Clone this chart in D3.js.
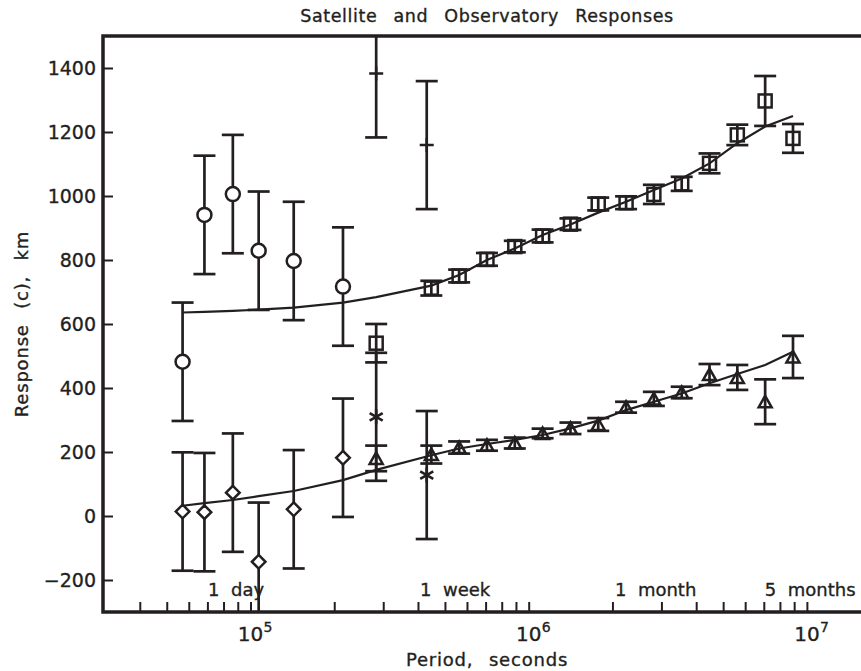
<!DOCTYPE html>
<html>
<head>
<meta charset="utf-8">
<script src="https://cdn.jsdelivr.net/npm/d3@7"></script>
<style>
  html, body { margin: 0; padding: 0; background: #fff; }
  svg { display: block; }
  text { font-family: "DejaVu Sans", sans-serif; fill: #231f20; stroke: #231f20; stroke-width: 0.35px; }
</style>
</head>
<body>
<svg id="chart" width="861" height="671"></svg>
<script>
// ---- data -------------------------------------------------------------
// short-period observatory estimates (seconds)
const obsPeriods   = [57000, 68300, 86400, 107000, 143000, 215000];
const circleValues = [482, 941, 1006, 829, 797, 717];
const circleErrors = [185, 185, 185, 185, 185, 185];
const diamondValues = [14, 12, 73, -143, 21, 182];
const diamondErrors = [185, 185, 185, 185, 185, 185];

// plus-sign estimates
const plusPeriods = [283000, 430000];
const plusValues  = [1383, 1159];
const plusErrors  = [200, 200];

// asterisk estimates
const starPeriods = [283000, 430000];
const starValues  = [310, 128];
const starErrors  = [200, 200];

// satellite periods (seconds)
const satPeriods = [283000, 446700, 562300, 707900, 891300, 1122000, 1413000,
                    1778000, 2239000, 2818000, 3548000, 4467000, 5623000,
                    7079000, 8913000];
const squareValues = [540, 712, 750, 802, 842, 875, 912, 975, 979, 1005, 1038,
                      1102, 1191, 1297, 1180];
const squareErrors = [60, 23, 20, 20, 18, 20, 18, 20, 20, 30, 22, 31, 32, 78, 45];
const triangleValues = [180, 192, 214, 221, 228, 258, 274, 286, 340, 366, 386,
                        442, 433, 357, 497];
const triangleErrors = [40, 28, 19, 17, 17, 15, 18, 20, 17, 22, 18, 33, 39, 70, 66];

// model response curves
const modelPeriods = [57000, 68300, 86400, 107000, 143000, 215000, 283000,
                      446700, 562300, 707900, 891300, 1122000, 1413000,
                      1778000, 2239000, 2818000, 3548000, 4467000, 5623000,
                      7079000, 8913000];
const modelUpper = [636, 638, 641, 645, 651, 667, 684, 720, 753, 800, 836, 878,
                    911, 948, 982, 1019, 1055, 1102, 1165, 1217, 1250];
const modelLower = [32, 40, 50, 62, 78, 112, 144, 190, 211, 225, 238, 253, 274,
                    298, 331, 357, 383, 415, 444, 472, 513];

// axis ticks and labels
const yTicks = [-200, 0, 200, 400, 600, 800, 1000, 1200, 1400];
const xMajorTicks = [1e5, 1e6, 1e7];
const xMinorTicks = [4e4, 5e4, 6e4, 7e4, 8e4, 9e4,
                     2e5, 3e5, 4e5, 5e5, 6e5, 7e5, 8e5, 9e5,
                     2e6, 3e6, 4e6, 5e6, 6e6, 7e6, 8e6, 9e6];
const timeLabels    = ["1  day", "1  week", "1  month", "5  months"];
const timeLabelsAt  = [70400, 407000, 2043000, 7060000];

// ---- layout -----------------------------------------------------------
const ink = "#231f20";
const svg = d3.select("#chart");
const m = { left: 103, right: 871, top: 36, bottom: 612 };

const x = d3.scaleLog().domain([2.95e4, 1.7e7]).range([m.left, m.right]);
const y = d3.scaleLinear().domain([-300, 1500]).range([m.bottom, m.top]);

svg.append("rect").attr("width", 861).attr("height", 671).attr("fill", "#fff");

svg.append("defs").append("clipPath").attr("id", "plotClip")
  .append("rect").attr("x", m.left).attr("y", m.top)
  .attr("width", m.right - m.left).attr("height", m.bottom - m.top);

// title
svg.append("text")
  .attr("x", (m.left + m.right) / 2).attr("y", 22)
  .attr("text-anchor", "middle")
  .style("font-size", "17.5px").style("word-spacing", "10px").style("letter-spacing", "0.6px")
  .text("Satellite and Observatory Responses");

// y axis
const yAxis = d3.axisLeft(y).tickValues(yTicks).tickSize(-10).tickPadding(7)
  .tickFormat(d => d < 0 ? "\u2212" + Math.abs(d) : String(d));
const gy = svg.append("g").attr("transform", `translate(${m.left},0)`).call(yAxis);
gy.select(".domain").remove();
gy.selectAll("line").attr("stroke", ink).attr("stroke-width", 2);
gy.selectAll("text").style("font-size", "19px").style("font-family", "DejaVu Sans, sans-serif")
  .attr("fill", ink);

// x axis (ticks only, labels drawn as powers of ten)
const xAxis = d3.axisBottom(x).tickValues(xMajorTicks.concat(xMinorTicks))
  .tickSize(-10).tickFormat("");
const gx = svg.append("g").attr("transform", `translate(0,${m.bottom})`).call(xAxis);
gx.select(".domain").remove();
gx.selectAll("line").attr("stroke", ink).attr("stroke-width", 2);

const pow = svg.append("g");
xMajorTicks.forEach(v => {
  const px = x(v);
  const e = Math.round(Math.log10(v));
  pow.append("text").attr("x", px).attr("y", 641).attr("text-anchor", "middle")
    .style("font-size", "20px").text("10");
  pow.append("text").attr("x", px + 13).attr("y", 632).attr("text-anchor", "start")
    .style("font-size", "14px").text(e);
});

// axis titles
svg.append("text")
  .attr("x", (m.left + m.right) / 2).attr("y", 666).attr("text-anchor", "middle")
  .style("font-size", "18px").style("word-spacing", "9px").style("letter-spacing", "0.8px")
  .text("Period, seconds");
svg.append("text")
  .attr("transform", `translate(28,${(m.top + m.bottom) / 2}) rotate(-90)`)
  .attr("text-anchor", "middle")
  .style("font-size", "18px").style("word-spacing", "9px").style("letter-spacing", "0.8px")
  .text("Response (c), km");

// period annotations
svg.append("g").selectAll("text").data(timeLabels).join("text")
  .attr("x", (d, i) => x(timeLabelsAt[i])).attr("y", 596)
  .style("font-size", "18px").style("white-space", "pre")
  .text(d => d);

// ---- plot content -----------------------------------------------------
const plot = svg.append("g").attr("clip-path", "url(#plotClip)");

function errorBars(periods, values, errors) {
  const g = plot.append("g").attr("stroke", ink).attr("stroke-width", 2.7).attr("fill", "none");
  periods.forEach((p, i) => {
    const px = x(p), y1 = y(values[i] + errors[i]), y0 = y(values[i] - errors[i]);
    g.append("line").attr("x1", px).attr("x2", px).attr("y1", y1).attr("y2", y0);
    g.append("line").attr("x1", px - 11).attr("x2", px + 11).attr("y1", y1).attr("y2", y1);
    g.append("line").attr("x1", px - 11).attr("x2", px + 11).attr("y1", y0).attr("y2", y0);
  });
}

// model curves
const line = d3.line().x(d => x(d[0])).y(d => y(d[1]));
[modelUpper, modelLower].forEach(vals => {
  plot.append("path")
    .datum(modelPeriods.map((p, i) => [p, vals[i]]))
    .attr("d", line).attr("fill", "none").attr("stroke", ink).attr("stroke-width", 2.2);
});

errorBars(obsPeriods, circleValues, circleErrors);
errorBars(obsPeriods, diamondValues, diamondErrors);
errorBars(plusPeriods, plusValues, plusErrors);
errorBars(starPeriods, starValues, starErrors);
errorBars(satPeriods, squareValues, squareErrors);
errorBars(satPeriods, triangleValues, triangleErrors);

const marks = plot.append("g").attr("stroke", ink).attr("stroke-width", 2.5);

// circles
marks.append("g").selectAll("circle").data(obsPeriods).join("circle")
  .attr("cx", d => x(d)).attr("cy", (d, i) => y(circleValues[i]))
  .attr("r", 7).attr("fill", "#fff");

// diamonds
marks.append("g").selectAll("path").data(obsPeriods).join("path")
  .attr("fill", "#fff")
  .attr("d", (d, i) => {
    const cx = x(d), cy = y(diamondValues[i]), s = 6.8;
    return `M${cx},${cy - s}L${cx + s},${cy}L${cx},${cy + s}L${cx - s},${cy}Z`;
  });

// squares
marks.append("g").selectAll("rect").data(satPeriods).join("rect")
  .attr("x", d => x(d) - 6.5).attr("y", (d, i) => y(squareValues[i]) - 6.5)
  .attr("width", 13).attr("height", 13).attr("fill", "none");

// triangles
marks.append("g").selectAll("path").data(satPeriods).join("path")
  .attr("fill", "none")
  .attr("d", (d, i) => {
    const cx = x(d), cy = y(triangleValues[i]);
    return `M${cx - 6.5},${cy + 5.5}L${cx},${cy - 6}L${cx + 6.5},${cy + 5.5}Z`;
  });

// plus signs
marks.append("g").selectAll("path").data(plusPeriods).join("path")
  .attr("d", (d, i) => {
    const cx = x(d), cy = y(plusValues[i]);
    return `M${cx - 7},${cy}H${cx + 7}M${cx},${cy - 7}V${cy + 7}`;
  });

// asterisks
marks.append("g").selectAll("path").data(starPeriods).join("path")
  .attr("stroke-width", 2.6)
  .attr("d", (d, i) => {
    const cx = x(d), cy = y(starValues[i]), s = 7.5, h = s * 0.87, q = s * 0.5;
    return `M${cx},${cy - s}V${cy + s}` +
           `M${cx - h},${cy - q}L${cx + h},${cy + q}` +
           `M${cx - h},${cy + q}L${cx + h},${cy - q}`;
  });

// frame
svg.append("rect")
  .attr("x", m.left).attr("y", m.top).attr("width", m.right - m.left).attr("height", m.bottom - m.top)
  .attr("fill", "none").attr("stroke", ink).attr("stroke-width", 3.5);
</script>
</body>
</html>
